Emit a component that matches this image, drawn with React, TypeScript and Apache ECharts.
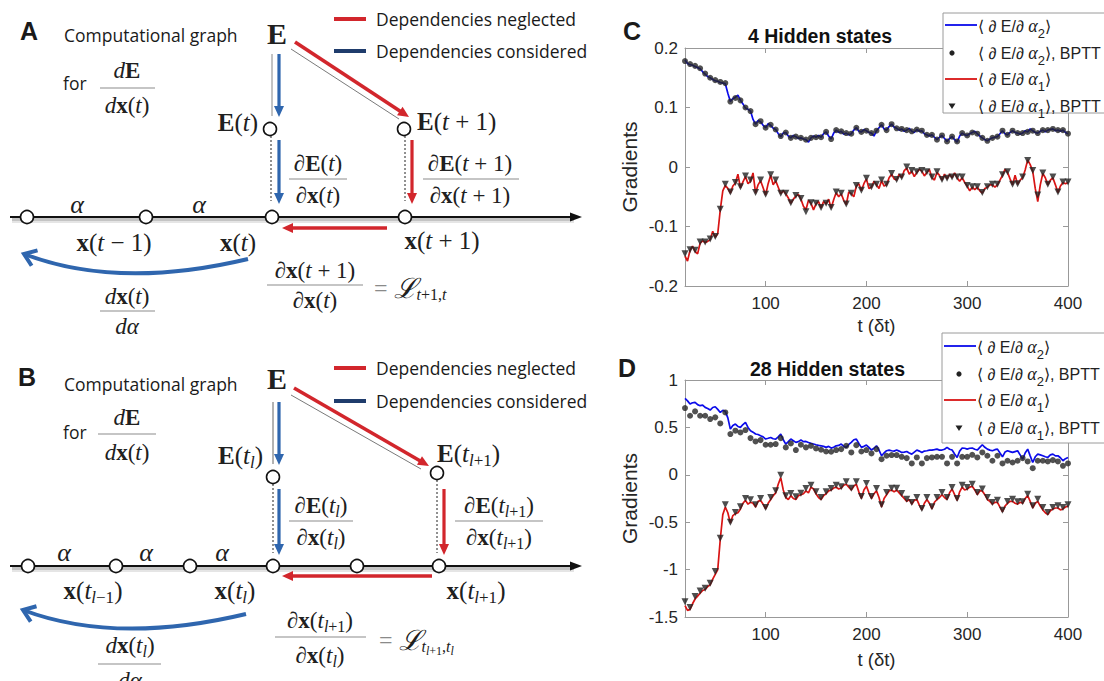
import React, { useEffect, useRef } from 'react';
import * as echarts from 'echarts';

// ---------------- data ----------------
const T_START = 20;
const MARK_STEP = 5;
const LINE_STEP = 2.5;
const X_TICKS = [100, 200, 300, 400];

// Panel C (4 hidden states)
const C_ALPHA2_LINE = [
  0.180, 0.174, 0.172, 0.171, 0.169, 0.167, 0.165, 0.160, 0.156, 0.152,
  0.150, 0.147, 0.145, 0.144, 0.142, 0.141, 0.140, 0.124, 0.110, 0.115,
  0.117, 0.121, 0.112, 0.106, 0.099, 0.097, 0.094, 0.080, 0.072, 0.078,
  0.076, 0.070, 0.066, 0.073, 0.070, 0.065, 0.063, 0.056, 0.051, 0.057,
  0.058, 0.052, 0.049, 0.053, 0.051, 0.048, 0.049, 0.047, 0.046, 0.042,
  0.049, 0.052, 0.050, 0.053, 0.050, 0.056, 0.059, 0.052, 0.047, 0.057,
  0.062, 0.058, 0.060, 0.055, 0.057, 0.054, 0.056, 0.062, 0.066, 0.060,
  0.059, 0.063, 0.061, 0.058, 0.057, 0.052, 0.061, 0.066, 0.071, 0.064,
  0.062, 0.068, 0.072, 0.067, 0.065, 0.062, 0.064, 0.060, 0.062, 0.065,
  0.060, 0.058, 0.063, 0.060, 0.061, 0.056, 0.054, 0.052, 0.054, 0.050,
  0.046, 0.050, 0.053, 0.048, 0.043, 0.048, 0.051, 0.046, 0.042, 0.052,
  0.057, 0.054, 0.053, 0.056, 0.058, 0.060, 0.056, 0.052, 0.049, 0.046,
  0.044, 0.047, 0.049, 0.050, 0.051, 0.056, 0.061, 0.056, 0.054, 0.058,
  0.061, 0.058, 0.057, 0.055, 0.057, 0.061, 0.059, 0.064, 0.061, 0.058,
  0.057, 0.060, 0.062, 0.059, 0.062, 0.063, 0.064, 0.061, 0.062, 0.060,
  0.062, 0.058, 0.056,
];
const C_ALPHA2_BPTT = [
  0.178, 0.173, 0.170, 0.166, 0.157, 0.150, 0.146, 0.143, 0.141, 0.110,
  0.116, 0.112, 0.100, 0.094, 0.072, 0.077, 0.066, 0.071, 0.063, 0.052,
  0.058, 0.049, 0.051, 0.049, 0.046, 0.049, 0.050, 0.050, 0.059, 0.047,
  0.062, 0.060, 0.057, 0.056, 0.066, 0.059, 0.061, 0.057, 0.061, 0.071,
  0.062, 0.072, 0.065, 0.064, 0.062, 0.060, 0.063, 0.061, 0.054, 0.054,
  0.046, 0.053, 0.043, 0.051, 0.043, 0.057, 0.053, 0.058, 0.056, 0.049,
  0.044, 0.049, 0.051, 0.061, 0.054, 0.061, 0.057, 0.057, 0.059, 0.061,
  0.057, 0.062, 0.062, 0.064, 0.062, 0.062, 0.056,
];
const C_ALPHA1_LINE = [
  -0.150, -0.158, -0.140, -0.133, -0.142, -0.146, -0.128, -0.124, -0.127, -0.125,
  -0.122, -0.108, -0.118, -0.112, -0.072, -0.040, -0.031, -0.036, -0.044, -0.032,
  -0.027, -0.012, -0.035, -0.025, -0.016, -0.028, -0.024, -0.010, -0.044, -0.030,
  -0.023, -0.035, -0.047, -0.028, -0.014, -0.030, -0.023, -0.034, -0.045, -0.040,
  -0.045, -0.052, -0.061, -0.054, -0.049, -0.046, -0.054, -0.066, -0.072, -0.056,
  -0.061, -0.072, -0.062, -0.058, -0.069, -0.058, -0.062, -0.054, -0.069, -0.055,
  -0.043, -0.050, -0.045, -0.056, -0.063, -0.042, -0.045, -0.050, -0.032, -0.028,
  -0.040, -0.028, -0.020, -0.036, -0.034, -0.024, -0.030, -0.036, -0.023, -0.032,
  -0.030, -0.018, -0.012, -0.020, -0.022, -0.012, -0.018, -0.006, -0.002, -0.012,
  -0.007, -0.016, -0.009, -0.004, -0.007, -0.015, -0.009, -0.004, -0.018, -0.022,
  -0.009, -0.014, -0.022, -0.012, -0.020, -0.012, -0.018, -0.010, -0.018, -0.024,
  -0.018, -0.026, -0.032, -0.040, -0.034, -0.038, -0.034, -0.040, -0.044, -0.036,
  -0.034, -0.030, -0.030, -0.034, -0.030, -0.022, -0.014, -0.004, -0.009, -0.020,
  -0.030, -0.014, -0.029, -0.022, -0.018, -0.005, 0.012, 0.004, -0.007, -0.036,
  -0.058, -0.030, -0.011, -0.018, -0.030, -0.022, -0.018, -0.030, -0.043, -0.032,
  -0.026, -0.028, -0.026,
];
const C_ALPHA1_BPTT = [
  -0.146, -0.139, -0.140, -0.126, -0.126, -0.121, -0.117, -0.071, -0.029, -0.042,
  -0.026, -0.033, -0.015, -0.022, -0.043, -0.022, -0.046, -0.013, -0.022, -0.044,
  -0.044, -0.060, -0.048, -0.053, -0.075, -0.060, -0.061, -0.068, -0.061, -0.068,
  -0.042, -0.044, -0.062, -0.044, -0.031, -0.039, -0.019, -0.033, -0.029, -0.022,
  -0.029, -0.011, -0.021, -0.017, 0.000, -0.006, -0.008, -0.006, -0.008, -0.017,
  -0.008, -0.021, -0.019, -0.017, -0.017, -0.017, -0.031, -0.033, -0.033, -0.043,
  -0.033, -0.029, -0.029, -0.013, -0.008, -0.029, -0.028, -0.017, 0.011, -0.006,
  -0.047, -0.010, -0.029, -0.017, -0.042, -0.025, -0.025,
];

// Panel D (28 hidden states)
const D_ALPHA2_LINE = [
  0.806, 0.780, 0.746, 0.760, 0.764, 0.740, 0.729, 0.735, 0.711, 0.700,
  0.683, 0.710, 0.718, 0.690, 0.658, 0.680, 0.669, 0.600, 0.482, 0.520,
  0.535, 0.510, 0.500, 0.530, 0.553, 0.500, 0.465, 0.450, 0.430, 0.425,
  0.412, 0.400, 0.377, 0.385, 0.394, 0.380, 0.377, 0.400, 0.430, 0.370,
  0.324, 0.350, 0.377, 0.360, 0.342, 0.350, 0.366, 0.350, 0.352, 0.340,
  0.331, 0.325, 0.317, 0.310, 0.306, 0.300, 0.289, 0.300, 0.282, 0.290,
  0.306, 0.310, 0.324, 0.300, 0.289, 0.320, 0.342, 0.370, 0.377, 0.330,
  0.289, 0.300, 0.313, 0.290, 0.261, 0.280, 0.306, 0.260, 0.201, 0.230,
  0.254, 0.260, 0.254, 0.250, 0.261, 0.250, 0.236, 0.240, 0.246, 0.230,
  0.218, 0.240, 0.261, 0.250, 0.236, 0.250, 0.254, 0.260, 0.261, 0.265,
  0.271, 0.260, 0.261, 0.270, 0.289, 0.270, 0.261, 0.220, 0.183, 0.250,
  0.282, 0.280, 0.271, 0.280, 0.282, 0.270, 0.261, 0.290, 0.317, 0.290,
  0.271, 0.260, 0.254, 0.265, 0.271, 0.230, 0.190, 0.240, 0.254, 0.245,
  0.236, 0.245, 0.254, 0.210, 0.165, 0.230, 0.271, 0.200, 0.130, 0.190,
  0.218, 0.210, 0.201, 0.190, 0.183, 0.210, 0.218, 0.200, 0.201, 0.180,
  0.148, 0.170, 0.183,
];
const D_ALPHA2_BPTT = [
  0.704, 0.623, 0.669, 0.623, 0.623, 0.588, 0.606, 0.542, 0.658, 0.430,
  0.465, 0.447, 0.472, 0.387, 0.352, 0.366, 0.317, 0.317, 0.324, 0.387,
  0.289, 0.331, 0.261, 0.317, 0.289, 0.306, 0.278, 0.264, 0.246, 0.243,
  0.261, 0.271, 0.306, 0.236, 0.313, 0.246, 0.261, 0.225, 0.271, 0.165,
  0.201, 0.208, 0.208, 0.190, 0.176, 0.120, 0.183, 0.120, 0.176, 0.183,
  0.190, 0.190, 0.120, 0.190, 0.120, 0.190, 0.190, 0.211, 0.183, 0.236,
  0.201, 0.148, 0.201, 0.120, 0.148, 0.130, 0.148, 0.176, 0.141, 0.070,
  0.148, 0.148, 0.141, 0.155, 0.141, 0.095, 0.120,
];
const D_ALPHA1_LINE = [
  -1.38, -1.43, -1.42, -1.36, -1.31, -1.28, -1.25, -1.22, -1.21, -1.18,
  -1.16, -1.10, -1.05, -1.00, -0.68, -0.42, -0.34, -0.40, -0.51, -0.43,
  -0.41, -0.40, -0.36, -0.30, -0.27, -0.31, -0.29, -0.30, -0.34, -0.28,
  -0.27, -0.31, -0.36, -0.30, -0.26, -0.22, -0.19, -0.10, -0.03, -0.16,
  -0.24, -0.26, -0.22, -0.25, -0.26, -0.22, -0.21, -0.20, -0.17, -0.19,
  -0.13, -0.15, -0.20, -0.24, -0.26, -0.22, -0.20, -0.17, -0.16, -0.14,
  -0.13, -0.15, -0.14, -0.11, -0.10, -0.13, -0.16, -0.12, -0.10, -0.18,
  -0.25, -0.16, -0.12, -0.19, -0.25, -0.20, -0.17, -0.24, -0.34, -0.25,
  -0.21, -0.17, -0.16, -0.18, -0.16, -0.19, -0.22, -0.25, -0.28, -0.26,
  -0.31, -0.27, -0.26, -0.32, -0.37, -0.30, -0.26, -0.30, -0.36, -0.29,
  -0.26, -0.24, -0.21, -0.24, -0.26, -0.19, -0.15, -0.21, -0.27, -0.18,
  -0.13, -0.16, -0.15, -0.13, -0.12, -0.16, -0.21, -0.17, -0.17, -0.21,
  -0.26, -0.28, -0.31, -0.29, -0.29, -0.34, -0.39, -0.33, -0.30, -0.28,
  -0.28, -0.30, -0.31, -0.29, -0.30, -0.25, -0.22, -0.28, -0.35, -0.30,
  -0.28, -0.33, -0.37, -0.40, -0.42, -0.38, -0.36, -0.35, -0.35, -0.37,
  -0.36, -0.34, -0.33,
];
const D_ALPHA1_BPTT = [
  -1.338, -1.401, -1.285, -1.225, -1.197, -1.144, -1.021, -0.669, -0.317, -0.500,
  -0.398, -0.338, -0.250, -0.264, -0.317, -0.250, -0.345, -0.239, -0.169, -0.004,
  -0.222, -0.197, -0.232, -0.194, -0.144, -0.109, -0.180, -0.239, -0.180, -0.144,
  -0.109, -0.127, -0.074, -0.141, -0.074, -0.229, -0.092, -0.229, -0.144, -0.317,
  -0.187, -0.141, -0.141, -0.197, -0.257, -0.292, -0.239, -0.356, -0.239, -0.338,
  -0.239, -0.187, -0.239, -0.134, -0.250, -0.109, -0.134, -0.099, -0.187, -0.151,
  -0.239, -0.292, -0.268, -0.373, -0.282, -0.257, -0.285, -0.285, -0.204, -0.327,
  -0.257, -0.345, -0.398, -0.345, -0.327, -0.345, -0.317,
];

const SERIES_NAMES = ['⟨∂E/∂α2⟩', '⟨∂E/∂α2⟩, BPTT', '⟨∂E/∂α1⟩', '⟨∂E/∂α1⟩, BPTT'];
const TITLES = ['4 Hidden states', '28 Hidden states'];

// ---------------- styles ----------------
const ARIAL = '"Liberation Sans", Arial, sans-serif';
const SERIF = '"Liberation Serif", "DejaVu Serif", serif';
const UI = '"Open Sans", "Noto Sans", sans-serif';
const MATHC = '#202020';
const AXC = '#999999';
const LABC = '#262626';
const BLUE_LINE = '#0b0bea';
const RED_LINE = '#d81414';
const ARROW_RED = '#d2262c';
const ARROW_BLUE = '#2f66ae';
const NAVY = '#1f3c6c';

const pairs = (arr: number[], step: number) => arr.map((v, i) => [T_START + i * step, v]);

function richMath(fs: number) {
  const sub = Math.round(fs * 0.68);
  const pad = Math.round(fs * 0.55);
  return {
    r: { fontFamily: SERIF, fontSize: fs, fill: MATHC },
    i: { fontFamily: SERIF, fontSize: fs, fontStyle: 'italic', fill: MATHC },
    b: { fontFamily: SERIF, fontSize: fs, fontWeight: 'bold', fill: MATHC },
    s: { fontFamily: SERIF, fontSize: sub, fontStyle: 'italic', fill: MATHC, padding: [pad, 0, 0, 0] },
    sr: { fontFamily: SERIF, fontSize: sub, fill: MATHC, padding: [pad, 0, 0, 0] },
    ss: { fontFamily: SERIF, fontSize: Math.round(fs * 0.5), fontStyle: 'italic', fill: MATHC, padding: [Math.round(fs * 0.9), 0, 0, 0] },
    ssr: { fontFamily: SERIF, fontSize: Math.round(fs * 0.5), fill: MATHC, padding: [Math.round(fs * 0.9), 0, 0, 0] },
    g: { fontFamily: SERIF, fontSize: fs, fill: '#8a8a8a' },
    L: { fontFamily: SERIF, fontSize: fs + 4, fontStyle: 'italic', fill: MATHC },
    B: { fontFamily: SERIF, fontSize: 30, fontWeight: 'bold', fill: MATHC },
  };
}

function mtext(x: number, y: number, text: string, align: string, fs = 24): any {
  return {
    type: 'text', x, y, z: 30,
    style: { text, align, verticalAlign: 'middle', textAlign: align, textVerticalAlign: 'middle', rich: richMath(fs), fontFamily: SERIF, fontSize: fs, fill: MATHC },
  };
}
function utext(x: number, y: number, text: string, fs = 17.5, align = 'left', weight = 'normal', family = UI): any {
  return {
    type: 'text', x, y, z: 30,
    style: { text, align, verticalAlign: 'middle', textAlign: align, textVerticalAlign: 'middle', fontFamily: family, fontSize: fs, fontWeight: weight, fill: '#1a1a1a' },
  };
}
function seg(x1: number, y1: number, x2: number, y2: number, stroke: string, lineWidth: number, extra: any = {}): any {
  return { type: 'line', z: 20, shape: { x1, y1, x2, y2 }, style: { stroke, lineWidth, ...extra } };
}
function arrow(x1: number, y1: number, x2: number, y2: number, color: string, w: number, hl = 11, hw = 5): any[] {
  const dx = x2 - x1, dy = y2 - y1, L = Math.hypot(dx, dy), ux = dx / L, uy = dy / L;
  const bx = x2 - ux * hl, by = y2 - uy * hl, px = -uy, py = ux;
  return [
    seg(x1, y1, bx + ux, by + uy, color, w),
    { type: 'polygon', z: 21, shape: { points: [[x2, y2], [bx + px * hw, by + py * hw], [bx - px * hw, by - py * hw]] }, style: { fill: color } },
  ];
}
function node(cx: number, cy: number): any {
  return { type: 'circle', z: 25, shape: { cx, cy, r: 6.5 }, style: { fill: '#ffffff', stroke: '#111111', lineWidth: 1.6 } };
}
function frac(cx: number, numY: number, lineY: number, denY: number, x1: number, x2: number, num: string, den: string, fs = 23): any[] {
  return [
    mtext(cx, numY, num, 'center', fs),
    seg(x1, lineY, x2, lineY, '#8c8c8c', 1.1),
    mtext(cx, denY, den, 'center', fs),
  ];
}
function curvedArrow(x1: number, y1: number, cx: number, cy: number, x2: number, y2: number): any[] {
  const dx = x2 - cx, dy = y2 - cy, L = Math.hypot(dx, dy);
  const bx = -dx / L, by = -dy / L;
  const a = (36 * Math.PI) / 180, len = 14;
  const c = Math.cos(a), s = Math.sin(a);
  const p1 = [x2 + (bx * c - by * s) * len, y2 + (bx * s + by * c) * len];
  const p2 = [x2 + (bx * c + by * s) * len, y2 + (-bx * s + by * c) * len];
  return [
    { type: 'bezierCurve', z: 20, shape: { x1, y1, x2, y2, cpx1: cx, cpy1: cy }, style: { stroke: ARROW_BLUE, lineWidth: 4, fill: 'none' } },
    { type: 'polyline', z: 20, shape: { points: [p1, [x2, y2], p2] }, style: { stroke: ARROW_BLUE, lineWidth: 4, lineJoin: 'miter', lineCap: 'butt', fill: 'none' } },
  ];
}
function timeAxis(y: number, nodes: number[]): any[] {
  return [
    seg(12, y + 3, 574, y + 3, 'rgba(0,0,0,0.10)', 6),
    seg(12, y + 2.5, 574, y + 2.5, 'rgba(0,0,0,0.14)', 3),
    seg(10, y, 572, y, '#111111', 2.2),
    { type: 'polygon', z: 21, shape: { points: [[582, y], [570, y - 4.5], [570, y + 4.5]] }, style: { fill: '#111111' } },
    ...nodes.map((x) => node(x, y)),
  ];
}
function diagLegend(yRed: number, yBlue: number): any[] {
  return [
    seg(334, yRed, 366, yRed, ARROW_RED, 4),
    utext(376, yRed, 'Dependencies neglected'),
    seg(334, yBlue, 366, yBlue, NAVY, 4),
    utext(376, yBlue, 'Dependencies considered'),
  ];
}

const panelA: any[] = [
  utext(20, 31, 'A', 25, 'left', 'bold', ARIAL),
  utext(64, 35, 'Computational graph'),
  utext(63, 83, 'for'),
  ...frac(127, 70, 88, 105, 100, 155, '{i|d}{b|E}', '{i|d}{b|x}{r|(}{i|t}{r|)}'),
  mtext(277, 33, '{B|E}', 'center'),
  ...diagLegend(19, 51),
  seg(272, 54, 272, 116, '#7a7a7a', 0.9),
  ...arrow(279, 54, 279, 117, ARROW_BLUE, 3.2),
  seg(291, 49, 399, 119, '#6a6a6a', 0.9),
  ...arrow(295, 42, 409, 117, ARROW_RED, 3.6),
  node(270, 129),
  node(404, 129),
  mtext(258, 122, '{b|E}{r|(}{i|t}{r|)}', 'right', 25),
  mtext(417, 121, '{b|E}{r|(}{i|t}{r| + 1)}', 'left', 25),
  seg(271, 136, 271, 201, '#222', 1, { lineDash: [2, 2] }),
  seg(405, 136, 405, 201, '#222', 1, { lineDash: [2, 2] }),
  ...arrow(279, 140, 279, 204, ARROW_BLUE, 3.2),
  ...arrow(412, 140, 412, 204, ARROW_RED, 3.2),
  ...frac(318, 163, 179, 195, 289, 347, '{r|∂}{b|E}{r|(}{i|t}{r|)}', '{r|∂}{b|x}{r|(}{i|t}{r|)}'),
  ...frac(470, 163, 179, 195, 423, 519, '{r|∂}{b|E}{r|(}{i|t}{r| + 1)}', '{r|∂}{b|x}{r|(}{i|t}{r| + 1)}'),
  ...timeAxis(217, [27, 146, 272, 405]),
  mtext(77, 204, '{i|α}', 'center', 26),
  mtext(199, 204, '{i|α}', 'center', 26),
  mtext(114, 242, '{b|x}{r|(}{i|t}{r| − 1)}', 'center', 25),
  mtext(238, 242, '{b|x}{r|(}{i|t}{r|)}', 'center', 25),
  mtext(442, 240, '{b|x}{r|(}{i|t}{r| + 1)}', 'center', 25),
  ...arrow(387, 228, 282, 228, ARROW_RED, 3.6),
  ...curvedArrow(248, 259, 118, 290, 24, 254),
  ...frac(127, 296, 311, 326, 100, 155, '{i|d}{b|x}{r|(}{i|t}{r|)}', '{i|dα}'),
  ...frac(315, 270, 285, 300, 267, 363, '{r|∂}{b|x}{r|(}{i|t}{r| + 1)}', '{r|∂}{b|x}{r|(}{i|t}{r|)}'),
  mtext(374, 288, '{g|= }{L|ℒ}{s|t}{sr|+1,}{s|t}', 'left', 24),
];

const panelB: any[] = [
  utext(18, 377, 'B', 25, 'left', 'bold', ARIAL),
  utext(64, 384, 'Computational graph'),
  utext(63, 432, 'for'),
  ...frac(127, 417, 434, 452, 98, 156, '{i|d}{b|E}', '{i|d}{b|x}{r|(}{i|t}{r|)}'),
  mtext(277, 378, '{B|E}', 'center'),
  ...diagLegend(368, 401),
  seg(273, 402, 273, 464, '#555', 0.9),
  ...arrow(279, 402, 279, 465, ARROW_BLUE, 3.2),
  seg(291, 395, 421, 469, '#6a6a6a', 0.9),
  ...arrow(294, 388, 429, 466, ARROW_RED, 3.6),
  node(273, 477),
  node(437, 473),
  mtext(263, 455, '{b|E}{r|(}{i|t}{s|l}{r|)}', 'right', 25),
  mtext(437, 453, '{b|E}{r|(}{i|t}{s|l}{sr|+1}{r|)}', 'left', 25),
  seg(273, 484, 273, 553, '#222', 1, { lineDash: [2, 2] }),
  seg(437, 480, 437, 553, '#222', 1, { lineDash: [2, 2] }),
  ...arrow(279, 489, 279, 555, ARROW_BLUE, 3.2),
  ...arrow(444, 489, 444, 555, ARROW_RED, 3.2),
  ...frac(321, 505, 521, 537, 289, 353, '{r|∂}{b|E}{r|(}{i|t}{s|l}{r|)}', '{r|∂}{b|x}{r|(}{i|t}{s|l}{r|)}'),
  ...frac(499, 505, 521, 537, 455, 543, '{r|∂}{b|E}{r|(}{i|t}{s|l}{sr|+1}{r|)}', '{r|∂}{b|x}{r|(}{i|t}{s|l}{sr|+1}{r|)}'),
  ...timeAxis(566, [28, 116, 190, 273, 357, 439]),
  mtext(64, 552, '{i|α}', 'center', 26),
  mtext(146, 552, '{i|α}', 'center', 26),
  mtext(222, 552, '{i|α}', 'center', 26),
  mtext(93, 590, '{b|x}{r|(}{i|t}{s|l}{sr|−1}{r|)}', 'center', 25),
  mtext(235, 590, '{b|x}{r|(}{i|t}{s|l}{r|)}', 'center', 25),
  mtext(476, 590, '{b|x}{r|(}{i|t}{s|l}{sr|+1}{r|)}', 'center', 25),
  ...arrow(432, 576, 282, 576, ARROW_RED, 3.6),
  ...curvedArrow(246, 614, 116, 645, 23, 610),
  ...frac(130, 645, 664, 680, 98, 161, '{i|d}{b|x}{r|(}{i|t}{s|l}{r|)}', '{i|dα}'),
  ...frac(320, 620, 637, 655, 275, 366, '{r|∂}{b|x}{r|(}{i|t}{s|l}{sr|+1}{r|)}', '{r|∂}{b|x}{r|(}{i|t}{s|l}{r|)}'),
  mtext(379, 640, '{g|= }{L|ℒ}{s|t}{ss|l}{ssr|+1}{sr|,}{s|t}{ss|l}', 'left', 24),
];

// chart legends (drawn as graphics inside the right-hand axes)
const legRich = {
  n: { fontFamily: ARIAL, fontSize: 16, fill: '#222' },
  a: { fontFamily: SERIF, fontSize: 18, fontStyle: 'italic', fill: '#222' },
  sub: { fontFamily: ARIAL, fontSize: 13, fill: '#222', padding: [14, 0, 0, 0] },
};
const legLabel = (i: number) => {
  const k = i < 2 ? '2' : '1';
  const bptt = i % 2 === 1 ? ', BPTT' : '';
  return `{n|⟨ ∂ E/∂ }{a|α}{sub|${k}}{n|⟩${bptt}}`;
};
function chartLegend(boxX: number, boxY: number, boxH: number, rows: number[], markX: number): any[] {
  const els: any[] = [
    { type: 'rect', shape: { x: boxX, y: boxY, width: 220, height: boxH }, style: { fill: '#ffffff', stroke: '#9a9a9a', lineWidth: 1 } },
    seg(boxX + 2, rows[0] + 1, boxX + 34, rows[0] + 1, BLUE_LINE, 1.8),
    { type: 'circle', shape: { cx: markX, cy: rows[1] + 2, r: 2.6 }, style: { fill: '#222' } },
    seg(boxX + 2, rows[2] + 2, boxX + 34, rows[2] + 2, RED_LINE, 1.8),
    { type: 'polygon', shape: { points: [[markX - 3.5, rows[3] - 0.5], [markX + 3.5, rows[3] - 0.5], [markX, rows[3] + 5]] }, style: { fill: '#222' } },
  ];
  els.forEach((e, i) => { e.z = i === 0 ? 50 : 51; });
  SERIES_NAMES.forEach((_, i) => {
    els.push({ type: 'text', x: boxX + 35, y: rows[i] + 2, z: 52, style: { text: legLabel(i), rich: legRich, align: 'left', verticalAlign: 'middle', textAlign: 'left', textVerticalAlign: 'middle', fontFamily: ARIAL, fontSize: 16, fill: '#222' } });
  });
  return els;
}

const panelLetters: any[] = [
  utext(623, 31, 'C', 25, 'left', 'bold', ARIAL),
  utext(618, 368, 'D', 25, 'left', 'bold', ARIAL),
];

// ---------------- axes ----------------
const GRIDS = [
  { left: 685, top: 48, width: 383, height: 238 },
  { left: 685, top: 380, width: 383, height: 237 },
];
const Y_RANGES = [
  { min: -0.2, max: 0.2, interval: 0.1 },
  { min: -1.5, max: 1, interval: 0.5 },
];

function buildOption() {
  const xAxis: any[] = [];
  const yAxis: any[] = [];
  GRIDS.forEach((_, g) => {
    const base = {
      type: 'value', gridIndex: g, min: T_START, max: 400,
      axisLine: { show: true, onZero: false, lineStyle: { color: AXC, width: 1 } },
      axisTick: { show: true, inside: true, length: 5, customValues: X_TICKS, lineStyle: { color: AXC } },
      splitLine: { show: false },
    };
    xAxis.push({
      ...base, position: 'bottom',
      axisLabel: { show: true, customValues: X_TICKS, margin: 9, fontSize: 17, color: LABC, fontFamily: ARIAL },
      name: 't (δt)', nameLocation: 'middle', nameGap: g === 0 ? 30 : 33,
      nameTextStyle: { fontSize: 18.5, color: LABC, fontFamily: ARIAL },
    });
    xAxis.push({ ...base, position: 'top', axisLabel: { show: false } });
    const yr = Y_RANGES[g];
    const ybase = {
      type: 'value', gridIndex: g, ...yr,
      axisLine: { show: true, onZero: false, lineStyle: { color: AXC, width: 1 } },
      axisTick: { show: true, inside: true, length: 5, lineStyle: { color: AXC } },
      splitLine: { show: false },
    };
    yAxis.push({
      ...ybase, position: 'left',
      axisLabel: { show: true, margin: 7, fontSize: 17, color: LABC, fontFamily: ARIAL },
      name: 'Gradients', nameLocation: 'middle', nameGap: 45,
      nameTextStyle: { fontSize: 21, color: LABC, fontFamily: ARIAL },
    });
    yAxis.push({ ...ybase, position: 'right', axisLabel: { show: false } });
  });

  const data = [
    [C_ALPHA2_LINE, C_ALPHA2_BPTT, C_ALPHA1_LINE, C_ALPHA1_BPTT],
    [D_ALPHA2_LINE, D_ALPHA2_BPTT, D_ALPHA1_LINE, D_ALPHA1_BPTT],
  ];
  const series: any[] = [];
  data.forEach((set, g) => {
    const ax = { xAxisIndex: g * 2, yAxisIndex: g * 2 };
    series.push({ type: 'line', name: SERIES_NAMES[0], ...ax, data: pairs(set[0], LINE_STEP), showSymbol: false, symbol: 'none', lineStyle: { color: BLUE_LINE, width: 1.7 }, z: 2 });
    series.push({ type: 'scatter', name: SERIES_NAMES[1], ...ax, data: pairs(set[1], MARK_STEP), symbol: 'circle', symbolSize: 6, itemStyle: { color: '#262626' }, z: 3 });
    series.push({ type: 'line', name: SERIES_NAMES[2], ...ax, data: pairs(set[2], LINE_STEP), showSymbol: false, symbol: 'none', lineStyle: { color: RED_LINE, width: 1.7 }, z: 2 });
    series.push({ type: 'scatter', name: SERIES_NAMES[3], ...ax, data: pairs(set[3], MARK_STEP), symbol: 'triangle', symbolRotate: 180, symbolSize: 7, itemStyle: { color: '#222' }, z: 3 });
  });

  return {
    animation: false,
    backgroundColor: '#ffffff',
    title: [
      { text: TITLES[0], left: 743, top: 21, textStyle: { fontFamily: ARIAL, fontSize: 19.5, fontWeight: 'bold', color: '#111' } },
      { text: TITLES[1], left: 745, top: 354, textStyle: { fontFamily: ARIAL, fontSize: 19.5, fontWeight: 'bold', color: '#111' } },
    ],
    grid: GRIDS.map((g) => ({ ...g, containLabel: false })),
    xAxis,
    yAxis,
    series,
    graphic: {
      elements: [
        ...panelA,
        ...panelB,
        ...panelLetters,
        ...chartLegend(943, 13, 100, [24, 51, 77, 104], 952),
        ...chartLegend(942, 333, 110, [345, 372, 398, 426], 959),
      ],
    },
  };
}

export default function App() {
  const ref = useRef<HTMLDivElement>(null);
  useEffect(() => {
    if (!ref.current) return;
    const chart = echarts.init(ref.current, undefined, { renderer: 'svg' });
    chart.setOption(buildOption() as any);
    return () => chart.dispose();
  }, []);
  return <div ref={ref} style={{ position: 'fixed', left: 0, top: 0, width: 1104, height: 681, background: '#fff' }} />;
}
